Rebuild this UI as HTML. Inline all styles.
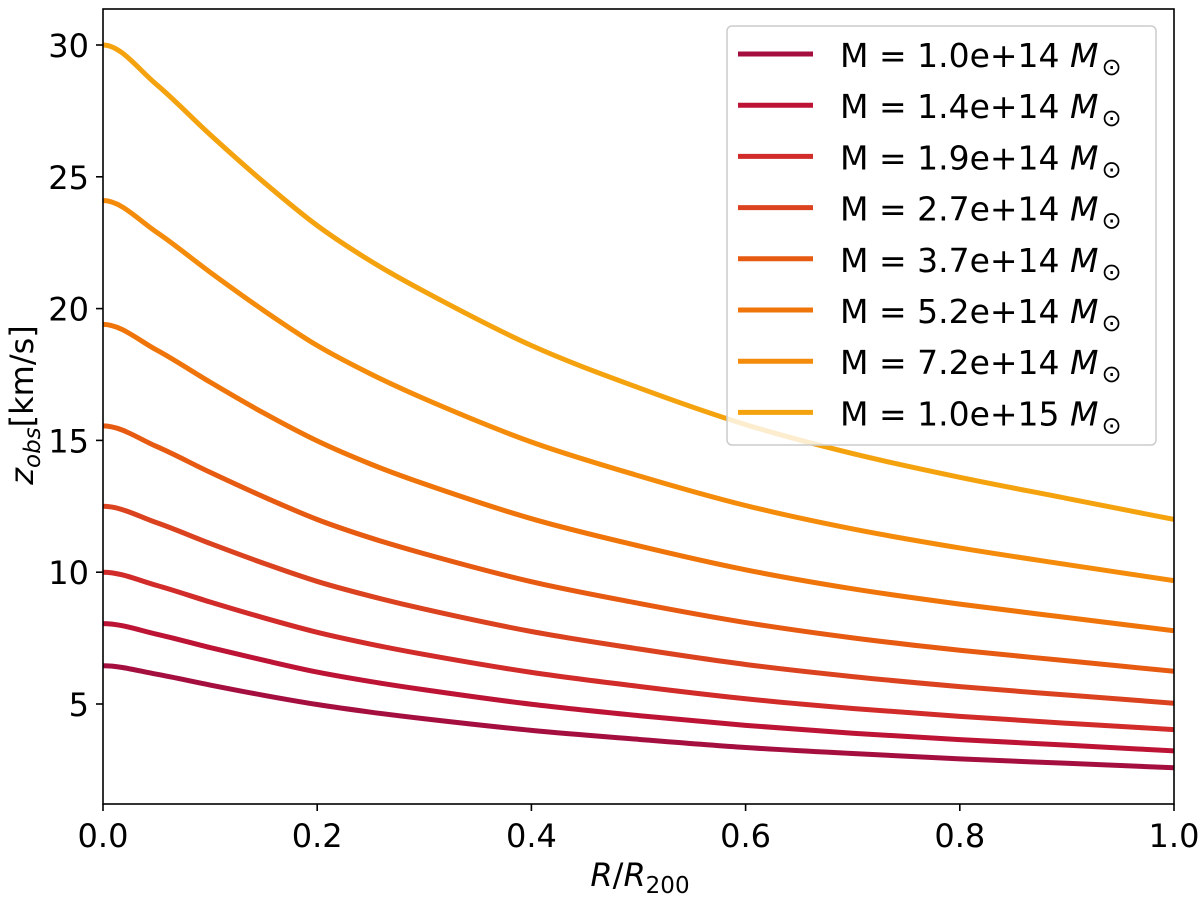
<!DOCTYPE html>
<html><head><meta charset="utf-8"><style>
body{margin:0;background:#fff}
svg text{font-family:"DejaVu Sans","Liberation Sans",sans-serif;fill:#000}
</style></head><body>
<svg id="chart" width="1200" height="894">
<g id="plot"></g>
</svg>
<script>
const xs=[0,0.05,0.1,0.15,0.2,0.25,0.3,0.4,0.5,0.6,0.7,0.8,0.9,1.0];
const s1=[6.45,6.13,5.72,5.33,4.98,4.69,4.44,4.0,3.66,3.35,3.12,2.92,2.75,2.58];
const s2=[8.05,7.65,7.14,6.66,6.21,5.85,5.54,4.99,4.56,4.19,3.89,3.65,3.44,3.22];
const s3=[10,9.5,8.87,8.27,7.72,7.27,6.88,6.2,5.67,5.2,4.83,4.53,4.27,4.03];
const s4=[12.5,11.88,11.09,10.34,9.65,9.09,8.6,7.75,7.09,6.5,6.04,5.66,5.34,5.03];
const s5=[15.55,14.77,13.79,12.86,12.0,11.3,10.7,9.64,8.82,8.09,7.51,7.04,6.64,6.24];
const s6=[19.4,18.43,17.21,16.04,14.98,14.1,13.35,12.03,11.0,10.09,9.37,8.79,8.28,7.78];
const s7=[24.1,22.9,21.38,19.93,18.6,17.52,16.58,14.94,13.66,12.53,11.64,10.92,10.29,9.68];
const s8=[30,28.5,26.6,24.8,23.15,21.8,20.65,18.6,17.0,15.6,14.5,13.6,12.8,12.0];
const labels=["1.0e+14","1.4e+14","1.9e+14","2.7e+14","3.7e+14","5.2e+14","7.2e+14","1.0e+15"];
const xTicks=[0,0.2,0.4,0.6,0.8,1.0];
const yTicks=[5,10,15,20,25,30];
const series=[s1,s2,s3,s4,s5,s6,s7,s8];
const colors=["#a50f3f","#bd1436","#d12b2a","#db4320","#e65a12","#ef740a","#f48b0a","#f4a30f"];
const L=103,R=1174,T=9,B=804;
const X=v=>L+(R-L)*v, Y=v=>704-(v-5)*26.36;
const NS="http://www.w3.org/2000/svg";
const g=document.getElementById('plot');
function mk(t,a,p){const e=document.createElementNS(NS,t);for(const k in a)e.setAttribute(k,a[k]);(p||g).appendChild(e);return e;}
function path(ys){const n=xs.length,m=[];
for(let i=0;i<n;i++){if(i==0)m.push(0);else if(i==n-1)m.push((ys[i]-ys[i-1])/(xs[i]-xs[i-1]));
else{const a=(ys[i]-ys[i-1])/(xs[i]-xs[i-1]),b=(ys[i+1]-ys[i])/(xs[i+1]-xs[i]);m.push((a+b)/2);}}
let d=`M${X(xs[0])},${Y(ys[0])}`;
for(let i=0;i<n-1;i++){const h=(xs[i+1]-xs[i])/3;
d+=` C${X(xs[i]+h)},${Y(ys[i]+m[i]*h)} ${X(xs[i+1]-h)},${Y(ys[i+1]-m[i+1]*h)} ${X(xs[i+1])},${Y(ys[i+1])}`;}return d;}
const clip=mk('clipPath',{id:'c'});mk('rect',{x:L,y:T,width:R-L,height:B-T},clip);
series.forEach((s,i)=>{const e=mk('path',{d:path(s),fill:'none',stroke:colors[i],'stroke-width':5,'clip-path':'url(#c)'});

});
const lg=mk('g',{});


mk('rect',{x:727,y:26,width:429,height:419,rx:5,fill:'rgba(255,255,255,0.8)',stroke:'#ccc','stroke-width':1.5},lg);
labels.forEach((l,i)=>{const y=54+i*51.2;
const ln=mk('line',{x1:738,x2:813,y1:y,y2:y,stroke:colors[i],'stroke-width':5},lg);


const t=mk('text',{x:840,y:y+13,'font-size':33},lg);


t.innerHTML=`M = ${l} <tspan font-style="italic">M</tspan><tspan dx="3" dy="8" font-size="24">⊙</tspan>`;});
mk('rect',{x:L,y:T,width:R-L,height:B-T,fill:'none',stroke:'#000','stroke-width':1.6});
xTicks.forEach(v=>{mk('line',{x1:X(v),x2:X(v),y1:B,y2:B+7,stroke:'#000','stroke-width':1.6});
const t=mk('text',{x:X(v),y:847,'font-size':32,'text-anchor':'middle'});t.textContent=v.toFixed(1);

});
yTicks.forEach(v=>{mk('line',{x1:L-7,x2:L,y1:Y(v),y2:Y(v),stroke:'#000','stroke-width':1.6});
const t=mk('text',{x:L-14,y:Y(v)+12,'font-size':32,'text-anchor':'end'});t.textContent=v;

});
const xt=mk('text',{x:640,y:886,'font-size':32,'text-anchor':'middle'});


xt.innerHTML='<tspan font-style="italic">R</tspan>/<tspan font-style="italic">R</tspan><tspan font-size="23" dy="7">200</tspan>';
const yt=mk('text',{transform:'translate(33,405) rotate(-90)','font-size':32,'text-anchor':'middle'});


yt.innerHTML='<tspan font-style="italic">z</tspan><tspan font-size="23" dy="7" font-style="italic">obs</tspan><tspan dy="-7">[km/s]</tspan>';
</script>
</body></html>
